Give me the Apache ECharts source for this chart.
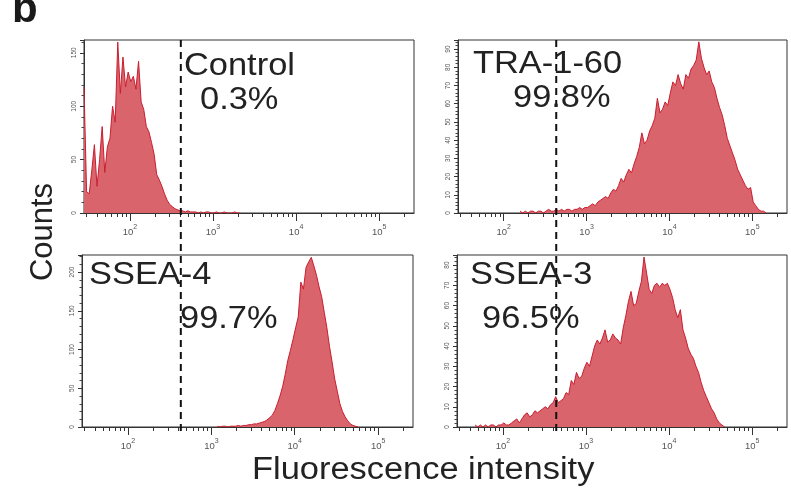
<!DOCTYPE html>
<html>
<head>
<meta charset="utf-8">
<title>Flow cytometry histograms</title>
<script src="https://cdn.jsdelivr.net/npm/echarts@6.0.0/dist/echarts.min.js"></script>
<style>
  html, body { margin: 0; padding: 0; background: #fff; }
  #chart { width: 791px; height: 496px; }
</style>
</head>
<body>
<div id="chart"></div>
<script>
// channel grid of the histograms (log10 units), shared by all panels
const firstBinLog = 1.448;
const binsPerDecade = 32;
const axisMin = 28.05;
const axisMax = 262144;

const majorTicks = [100, 1000, 10000, 100000];
const minorTicks = [30, 40, 50, 60, 70, 80, 90,
  200, 300, 400, 500, 600, 700, 800, 900,
  2000, 3000, 4000, 5000, 6000, 7000, 8000, 9000,
  20000, 30000, 40000, 50000, 60000, 70000, 80000, 90000, 200000];

const panelNames = ['Control', 'TRA-1-60', 'SSEA-4', 'SSEA-3'];
const panelPercents = ['0.3%', '99.8%', '99.7%', '96.5%'];
const gateValues = [410, 430]; // left column, right column
const yMax = [162, 95, 222, 85];
const yStep = [50, 10, 50, 10];

// counts per channel, first value sits on channel "start"
const controlStart = 0;
const controlCounts = [118, 20, 18, 40, 64, 25, 50, 81, 38, 62, 70, 100, 85, 160, 112, 146, 118, 132,
  123, 128, 116, 142, 104, 97, 81, 76, 66, 55, 36, 31, 25, 18, 12, 8, 6, 4, 3, 2, 2, 1, 2, 1, 1, 1,
  0, 1, 0, 1, 1, 0, 0, 1, 0, 0, 1, 0, 0, 0, 1, 0, 0];
const traStart = 24;
const traCounts = [1, 0, 1, 0, 1, 1, 0, 1, 1, 0, 1, 2, 1, 1, 2, 1, 2, 1, 2, 2, 1, 2, 2, 3, 2, 3, 3, 4,
  5, 4, 6, 7, 8, 9, 8, 11, 13, 12, 15, 19, 17, 21, 24, 22, 27, 31, 36, 44, 38, 40, 45, 48, 52, 63, 55,
  57, 61, 59, 66, 72, 70, 76, 71, 68, 76, 74, 79, 81, 84, 94, 85, 80, 76, 78, 72, 69, 63, 58, 54, 48,
  41, 37, 33, 29, 24, 21, 18, 15, 13, 14, 6, 4, 2, 1, 1, 0];
const ssea4Start = 52;
const ssea4Counts = [1, 0, 1, 1, 0, 1, 1, 1, 2, 1, 2, 2, 3, 3, 4, 4, 5, 6, 7, 9, 12, 15, 21, 30, 40, 52,
  68, 86, 99, 113, 128, 142, 187, 178, 206, 213, 219, 208, 196, 181, 168, 148, 128, 104, 84, 62, 46,
  30, 20, 13, 8, 4, 2, 1, 0];
const ssea3Start = 7;
const ssea3Counts = [1, 0, 1, 0, 1, 0, 1, 1, 0, 1, 1, 2, 1, 1, 2, 3, 4, 2, 4, 6, 7, 5, 6, 8, 7, 8, 9, 10,
  9, 11, 12, 15, 12, 13, 14, 17, 16, 23, 21, 27, 24, 25, 29, 32, 30, 35, 40, 43, 41, 44, 48, 42, 43,
  46, 44, 43, 41, 49, 55, 62, 67, 60, 61, 67, 72, 84, 76, 68, 66, 70, 71, 69, 71, 70, 71, 68, 64, 58,
  54, 58, 48, 44, 39, 36, 34, 30, 27, 22, 18, 15, 12, 9, 7, 4, 2, 1, 0];

const panelStarts = [controlStart, traStart, ssea4Start, ssea3Start];
const panelCounts = [controlCounts, traCounts, ssea4Counts, ssea3Counts];

const lineRed = '#c81e30';
const fillRed = '#da646b';
const axisColor = '#333';
const font = 'Liberation Sans';

const grids = [
  { left: 84, top: 40, width: 330, height: 173 },
  { left: 458, top: 40, width: 329, height: 173 },
  { left: 82, top: 255, width: 331, height: 172 },
  { left: 457, top: 255, width: 330, height: 172 }
];

function toPoints(start, counts) {
  return counts.map(function (c, i) {
    return [Math.pow(10, firstBinLog + (start + i) / binsPerDecade), c];
  });
}

let xAxes = [];
let yAxes = [];
let series = [];
grids.forEach(function (g, idx) {
  g.show = true;
  g.borderColor = axisColor;
  g.borderWidth = 1;
  g.backgroundColor = 'transparent';
  // minor ticks + axis line
  xAxes.push({
    gridIndex: idx, type: 'log', logBase: 10, min: axisMin, max: axisMax, position: 'bottom',
    axisLine: { show: true, lineStyle: { color: axisColor, width: 1 } },
    axisTick: { show: true, length: 4, customValues: minorTicks, lineStyle: { color: axisColor } },
    axisLabel: { show: false },
    splitLine: { show: false }
  });
  // decade ticks + labels
  xAxes.push({
    gridIndex: idx, type: 'log', logBase: 10, min: axisMin, max: axisMax, position: 'bottom',
    axisLine: { show: false },
    axisTick: { show: true, length: 8, customValues: majorTicks, lineStyle: { color: axisColor } },
    axisLabel: {
      show: true, customValues: majorTicks, margin: 11,
      formatter: function (v) {
        return '{b|10}{s|' + Math.round(Math.log10(v)) + '}';
      },
      rich: {
        b: { fontSize: 9.5, color: '#555', fontFamily: font, lineHeight: 13, verticalAlign: 'bottom' },
        s: { fontSize: 7, color: '#555', fontFamily: font, lineHeight: 13, verticalAlign: 'top' }
      }
    },
    splitLine: { show: false }
  });
  yAxes.push({
    gridIndex: idx, type: 'value', min: 0, max: yMax[idx], interval: yStep[idx],
    axisLine: { show: true, lineStyle: { color: axisColor, width: 1 } },
    axisTick: { show: true, length: 4, lineStyle: { color: axisColor } },
    minorTick: { show: true, splitNumber: 5, length: 2.5, lineStyle: { color: '#444' } },
    axisLabel: { rotate: 90, fontSize: 6.5, color: '#555', margin: 6, fontFamily: font, showMaxLabel: false },
    splitLine: { show: false }
  });
  series.push({
    type: 'line',
    xAxisIndex: idx * 2,
    yAxisIndex: idx,
    data: toPoints(panelStarts[idx], panelCounts[idx]),
    symbol: 'none',
    silent: true,
    lineStyle: { color: lineRed, width: 1 },
    areaStyle: { color: fillRed, opacity: 1 }
  });
});

function bigText(id, text, x, y) {
  return {
    id: id, type: 'text', x: x, y: y, scaleX: 1.11, z: 100,
    style: { text: text, fontSize: 31, fontFamily: font, fill: '#222', align: 'left', verticalAlign: 'middle' }
  };
}

const labelPos = [[184, 66.5, 200, 100], [473, 64, 513, 98.5], [89, 275, 180, 319], [470, 275.5, 482, 319]];
let graphics = [];
labelPos.forEach(function (p, i) {
  graphics.push(bigText('name' + i, panelNames[i], p[0], p[1]));
  graphics.push(bigText('pct' + i, panelPercents[i], p[2], p[3]));
});
graphics.push(bigText('xname', 'Fluorescence intensity', 252, 470.5));
graphics.push({
  id: 'yname', type: 'text', x: 43, y: 232, rotation: Math.PI / 2, z: 100,
  style: { text: 'Counts', fontSize: 31, fontFamily: font, fill: '#222', align: 'center', verticalAlign: 'middle' }
});
graphics.push({
  id: 'panelLetter', type: 'text', x: 12, y: 10, z: 100,
  style: { text: 'b', fontSize: 42, fontWeight: 'bold', fontFamily: font, fill: '#1a1a1a', align: 'left', verticalAlign: 'middle' }
});

let chart = echarts.init(document.getElementById('chart'), null, { renderer: 'canvas' });
chart.setOption({
  animation: false,
  backgroundColor: '#fff',
  grid: grids,
  xAxis: xAxes,
  yAxis: yAxes,
  series: series,
  graphic: graphics
});

// gate lines run through both rows of each column
let gateTop = chart.convertToPixel({ yAxisIndex: 0 }, yMax[0]);
let gateBottom = chart.convertToPixel({ yAxisIndex: 2 }, 0) + 4;
let gateLines = gateValues.map(function (v, col) {
  let gx = chart.convertToPixel({ xAxisIndex: col * 2 }, v);
  return {
    id: 'gate' + col, type: 'line', z: 90,
    shape: { x1: gx, y1: gateTop, x2: gx, y2: gateBottom },
    style: { stroke: '#111', lineWidth: 2, lineDash: [7, 5] }
  };
});
chart.setOption({ graphic: gateLines });
</script>
</body>
</html>
